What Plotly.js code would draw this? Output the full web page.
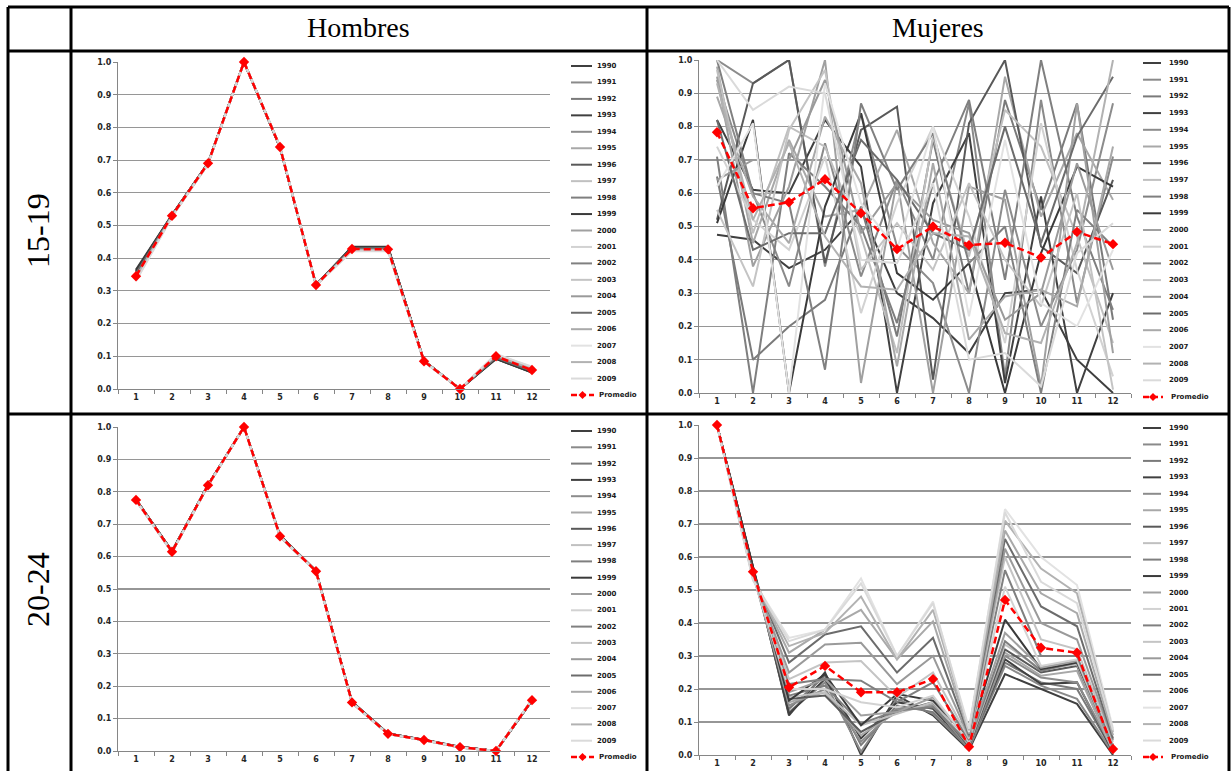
<!DOCTYPE html>
<html>
<head>
<meta charset="utf-8">
<script src="https://cdn.plot.ly/plotly-3.0.1.min.js"></script>
<style>
html, body { margin: 0; padding: 0; background: #ffffff; }
#chart { width: 1231px; height: 771px; }
</style>
</head>
<body>
<div id="chart"></div>
<script>
// Month index on the x axis
const meses = ['1', '2', '3', '4', '5', '6', '7', '8', '9', '10', '11', '12'];
const anios = ['1990', '1991', '1992', '1993', '1994', '1995', '1996', '1997', '1998', '1999',
               '2000', '2001', '2002', '2003', '2004', '2005', '2006', '2007', '2008', '2009'];
const coloresAnio = ['#3f3f3f', '#8a8a8a', '#7a7a7a', '#404040', '#8c8c8c', '#a8a8a8', '#595959',
                     '#c0c0c0', '#7f7f7f', '#3a3a3a', '#a0a0a0', '#d2d2d2', '#808080', '#c4c4c4',
                     '#9a9a9a', '#6c6c6c', '#a9a9a9', '#e2e2e2', '#b2b2b2', '#dadada'];

// Hombres 15-19: one row per year, then the average
const hombres1519 = [
  [0.360, 0.532, 0.690, 1.0, 0.738, 0.318, 0.432, 0.433, 0.086, 0.0, 0.094, 0.052],
  [0.350, 0.531, 0.689, 1.0, 0.740, 0.317, 0.430, 0.431, 0.085, 0.0, 0.097, 0.055],
  [0.355, 0.530, 0.690, 1.0, 0.741, 0.319, 0.433, 0.434, 0.084, 0.0, 0.092, 0.050],
  [0.365, 0.533, 0.691, 1.0, 0.739, 0.318, 0.435, 0.435, 0.086, 0.0, 0.093, 0.050],
  [0.352, 0.530, 0.690, 1.0, 0.740, 0.317, 0.429, 0.430, 0.085, 0.0, 0.098, 0.056],
  [0.345, 0.529, 0.688, 1.0, 0.740, 0.318, 0.427, 0.427, 0.085, 0.0, 0.100, 0.060],
  [0.358, 0.531, 0.690, 1.0, 0.739, 0.319, 0.431, 0.432, 0.086, 0.0, 0.095, 0.053],
  [0.340, 0.528, 0.689, 1.0, 0.741, 0.317, 0.425, 0.425, 0.084, 0.0, 0.103, 0.062],
  [0.350, 0.530, 0.690, 1.0, 0.740, 0.318, 0.430, 0.430, 0.085, 0.0, 0.097, 0.056],
  [0.362, 0.532, 0.691, 1.0, 0.739, 0.318, 0.434, 0.434, 0.086, 0.0, 0.092, 0.051],
  [0.343, 0.529, 0.689, 1.0, 0.740, 0.318, 0.426, 0.426, 0.085, 0.0, 0.101, 0.060],
  [0.335, 0.527, 0.688, 1.0, 0.742, 0.317, 0.423, 0.423, 0.084, 0.0, 0.105, 0.065],
  [0.348, 0.530, 0.690, 1.0, 0.740, 0.318, 0.428, 0.429, 0.085, 0.0, 0.098, 0.057],
  [0.338, 0.528, 0.689, 1.0, 0.741, 0.317, 0.424, 0.424, 0.084, 0.0, 0.104, 0.064],
  [0.346, 0.530, 0.690, 1.0, 0.740, 0.318, 0.428, 0.428, 0.085, 0.0, 0.100, 0.058],
  [0.353, 0.531, 0.690, 1.0, 0.740, 0.318, 0.430, 0.431, 0.085, 0.0, 0.096, 0.055],
  [0.342, 0.529, 0.689, 1.0, 0.741, 0.318, 0.426, 0.426, 0.085, 0.0, 0.102, 0.061],
  [0.332, 0.527, 0.688, 1.0, 0.742, 0.317, 0.422, 0.422, 0.084, 0.0, 0.106, 0.067],
  [0.340, 0.528, 0.689, 1.0, 0.741, 0.317, 0.425, 0.425, 0.084, 0.0, 0.103, 0.063],
  [0.330, 0.526, 0.688, 1.0, 0.742, 0.317, 0.421, 0.421, 0.084, 0.0, 0.107, 0.068]
];
const hombres1519Promedio = [0.345, 0.530, 0.690, 1.0, 0.740, 0.318, 0.428, 0.427, 0.085, 0.0, 0.100, 0.058];

// Mujeres 15-19
const mujeres1519 = [
  [0.475, 0.46, 0.375, 0.43, 0.55, 0.30, 0.225, 0.12, 0.30, 0.31, 0.10, 0.00],
  [0.94, 0.60, 0.32, 0.75, 0.35, 0.64, 0.40, 0.87, 0.05, 0.88, 0.27, 0.71],
  [0.65, 0.10, 0.20, 0.28, 0.56, 0.17, 0.76, 0.30, 0.88, 0.55, 0.87, 0.22],
  [0.82, 0.61, 0.60, 0.82, 0.68, 0.00, 0.57, 0.78, 0.03, 0.59, 0.00, 0.30],
  [1.00, 0.93, 1.00, 0.38, 0.84, 0.44, 0.33, 0.00, 0.61, 0.20, 0.43, 0.87],
  [0.98, 0.45, 0.76, 0.53, 0.55, 0.79, 0.45, 0.30, 0.95, 0.53, 0.78, 0.58],
  [0.52, 0.93, 1.00, 0.39, 0.79, 0.86, 0.04, 0.81, 1.00, 0.44, 0.36, 0.64],
  [0.97, 0.48, 0.80, 0.74, 0.47, 0.12, 0.77, 0.41, 0.85, 0.74, 0.47, 0.15],
  [0.71, 0.00, 0.72, 0.62, 0.50, 0.21, 0.63, 0.88, 0.34, 1.00, 0.53, 0.25],
  [0.51, 0.82, 0.00, 0.56, 0.84, 0.36, 0.28, 0.39, 0.00, 0.42, 0.68, 0.62],
  [0.95, 0.38, 0.62, 1.00, 0.03, 0.64, 0.00, 0.62, 0.58, 0.02, 0.87, 0.12],
  [0.74, 0.52, 0.43, 0.71, 0.24, 0.57, 0.80, 0.53, 0.15, 0.81, 0.37, 0.05],
  [1.00, 0.60, 0.57, 0.07, 0.87, 0.61, 0.78, 0.39, 0.50, 0.00, 0.55, 0.44],
  [0.55, 0.32, 0.79, 0.97, 0.37, 0.51, 0.37, 0.63, 0.40, 0.26, 0.60, 0.01],
  [0.64, 0.70, 0.70, 0.94, 0.48, 0.63, 0.52, 0.48, 0.22, 0.30, 0.69, 0.37],
  [0.82, 0.43, 0.48, 0.48, 0.76, 0.64, 0.48, 0.43, 0.80, 0.45, 0.77, 0.95],
  [0.89, 0.59, 0.45, 0.83, 0.63, 0.08, 0.69, 0.16, 0.29, 0.31, 0.26, 0.74],
  [0.62, 0.81, 0.00, 0.93, 0.57, 0.43, 0.80, 0.23, 0.76, 0.27, 0.20, 0.43],
  [0.93, 0.52, 0.75, 0.47, 0.32, 0.31, 0.48, 0.47, 0.18, 0.15, 0.45, 1.00],
  [1.00, 0.85, 0.92, 0.90, 0.40, 0.39, 0.63, 0.10, 0.12, 0.02, 0.42, 0.51]
];
const mujeres1519Promedio = [0.783, 0.555, 0.573, 0.642, 0.540, 0.432, 0.500, 0.444, 0.451, 0.407, 0.484, 0.447];

// Hombres 20-24
const hombres2024 = [
  [0.776, 0.616, 0.821, 1.0, 0.664, 0.556, 0.151, 0.054, 0.034, 0.012, 0.0, 0.156],
  [0.775, 0.615, 0.820, 1.0, 0.663, 0.555, 0.150, 0.053, 0.034, 0.012, 0.0, 0.157],
  [0.777, 0.617, 0.821, 1.0, 0.665, 0.556, 0.152, 0.054, 0.035, 0.013, 0.0, 0.155],
  [0.776, 0.616, 0.820, 1.0, 0.664, 0.555, 0.151, 0.053, 0.034, 0.012, 0.0, 0.156],
  [0.774, 0.614, 0.819, 1.0, 0.662, 0.554, 0.149, 0.052, 0.033, 0.011, 0.0, 0.158],
  [0.775, 0.615, 0.820, 1.0, 0.663, 0.555, 0.150, 0.053, 0.034, 0.012, 0.0, 0.157],
  [0.776, 0.616, 0.821, 1.0, 0.664, 0.556, 0.151, 0.054, 0.034, 0.012, 0.0, 0.156],
  [0.774, 0.614, 0.819, 1.0, 0.662, 0.554, 0.149, 0.052, 0.033, 0.011, 0.0, 0.158],
  [0.775, 0.615, 0.820, 1.0, 0.663, 0.555, 0.150, 0.053, 0.034, 0.012, 0.0, 0.157],
  [0.777, 0.617, 0.821, 1.0, 0.665, 0.556, 0.152, 0.054, 0.035, 0.013, 0.0, 0.155],
  [0.775, 0.615, 0.820, 1.0, 0.663, 0.555, 0.150, 0.053, 0.034, 0.012, 0.0, 0.157],
  [0.773, 0.613, 0.819, 1.0, 0.662, 0.554, 0.149, 0.052, 0.033, 0.011, 0.0, 0.159],
  [0.775, 0.615, 0.820, 1.0, 0.663, 0.555, 0.150, 0.053, 0.034, 0.012, 0.0, 0.157],
  [0.774, 0.614, 0.819, 1.0, 0.662, 0.554, 0.149, 0.052, 0.033, 0.011, 0.0, 0.158],
  [0.775, 0.615, 0.820, 1.0, 0.663, 0.555, 0.150, 0.053, 0.034, 0.012, 0.0, 0.157],
  [0.776, 0.616, 0.820, 1.0, 0.664, 0.555, 0.151, 0.053, 0.034, 0.012, 0.0, 0.156],
  [0.774, 0.614, 0.819, 1.0, 0.662, 0.554, 0.149, 0.052, 0.033, 0.011, 0.0, 0.158],
  [0.773, 0.613, 0.819, 1.0, 0.662, 0.554, 0.149, 0.052, 0.033, 0.011, 0.0, 0.159],
  [0.774, 0.614, 0.819, 1.0, 0.662, 0.554, 0.149, 0.052, 0.033, 0.011, 0.0, 0.158],
  [0.773, 0.613, 0.819, 1.0, 0.662, 0.554, 0.149, 0.052, 0.033, 0.011, 0.0, 0.159]
];
const hombres2024Promedio = [0.775, 0.615, 0.820, 1.0, 0.663, 0.555, 0.150, 0.053, 0.034, 0.012, 0.0, 0.157];

// Mujeres 20-24
const mujeres2024 = [
  [1.0, 0.570, 0.120, 0.250, 0.000, 0.180, 0.120, 0.015, 0.245, 0.200, 0.155, 0.000],
  [1.0, 0.560, 0.130, 0.220, 0.010, 0.170, 0.125, 0.020, 0.270, 0.210, 0.170, 0.005],
  [1.0, 0.560, 0.140, 0.240, 0.030, 0.150, 0.130, 0.020, 0.280, 0.220, 0.200, 0.010],
  [1.0, 0.570, 0.125, 0.230, 0.050, 0.160, 0.140, 0.025, 0.290, 0.215, 0.220, 0.010],
  [1.0, 0.550, 0.150, 0.200, 0.040, 0.140, 0.150, 0.020, 0.300, 0.235, 0.220, 0.015],
  [1.0, 0.550, 0.160, 0.190, 0.060, 0.130, 0.155, 0.030, 0.310, 0.240, 0.255, 0.010],
  [1.0, 0.560, 0.170, 0.180, 0.070, 0.130, 0.160, 0.025, 0.320, 0.250, 0.270, 0.020],
  [1.0, 0.550, 0.175, 0.190, 0.090, 0.125, 0.160, 0.030, 0.335, 0.260, 0.275, 0.015],
  [1.0, 0.555, 0.180, 0.210, 0.095, 0.135, 0.145, 0.035, 0.345, 0.255, 0.280, 0.020],
  [1.0, 0.570, 0.165, 0.245, 0.090, 0.185, 0.165, 0.050, 0.410, 0.260, 0.280, 0.030],
  [1.0, 0.545, 0.190, 0.230, 0.120, 0.130, 0.175, 0.040, 0.370, 0.265, 0.285, 0.020],
  [1.0, 0.540, 0.200, 0.200, 0.160, 0.145, 0.180, 0.040, 0.510, 0.270, 0.290, 0.030],
  [1.0, 0.550, 0.215, 0.230, 0.225, 0.160, 0.220, 0.045, 0.560, 0.300, 0.300, 0.025],
  [1.0, 0.540, 0.230, 0.280, 0.285, 0.175, 0.250, 0.050, 0.600, 0.350, 0.320, 0.040],
  [1.0, 0.545, 0.250, 0.335, 0.340, 0.215, 0.300, 0.055, 0.625, 0.400, 0.350, 0.045],
  [1.0, 0.550, 0.280, 0.365, 0.390, 0.250, 0.355, 0.060, 0.655, 0.450, 0.390, 0.050],
  [1.0, 0.535, 0.310, 0.380, 0.440, 0.290, 0.405, 0.065, 0.680, 0.490, 0.430, 0.060],
  [1.0, 0.530, 0.355, 0.380, 0.535, 0.300, 0.465, 0.070, 0.745, 0.600, 0.515, 0.080],
  [1.0, 0.535, 0.330, 0.370, 0.480, 0.290, 0.440, 0.075, 0.710, 0.565, 0.490, 0.070],
  [1.0, 0.530, 0.345, 0.380, 0.520, 0.300, 0.460, 0.080, 0.735, 0.525, 0.460, 0.075]
];
const mujeres2024Promedio = [1.0, 0.555, 0.205, 0.270, 0.190, 0.190, 0.230, 0.025, 0.470, 0.325, 0.310, 0.018];

const etiquetaPromedio = 'Promedio';
const encabezadosColumna = ['Hombres', 'Mujeres'];
const encabezadosFila = ['15-19', '20-24'];

// ---- page geometry (pixels) ----
const W = 1231, H = 771;
const px = x => x / W;
const py = y => 1 - y / H;

const paneles = [
  { serie: hombres1519, prom: hombres1519Promedio, ax: '',  box: { l: 118, r: 550, t: 62, b: 389 },
    leg: { x0: 571, x1: 592, xt: 595, y0: 66, step: 16.45 } },
  { serie: mujeres1519, prom: mujeres1519Promedio, ax: '2', box: { l: 699, r: 1131, t: 60, b: 393 },
    leg: { x0: 1143, x1: 1161, xt: 1167, y0: 63, step: 16.7 } },
  { serie: hombres2024, prom: hombres2024Promedio, ax: '3', box: { l: 118, r: 550, t: 427, b: 751 },
    leg: { x0: 571, x1: 592, xt: 595, y0: 431, step: 16.3 } },
  { serie: mujeres2024, prom: mujeres2024Promedio, ax: '4', box: { l: 699, r: 1131, t: 425, b: 755 },
    leg: { x0: 1143, x1: 1161, xt: 1167, y0: 428, step: 16.45 } }
];

const tickFont = { family: 'DejaVu Sans', size: 8, color: '#262626', weight: 'bold' };
const legFont = { family: 'DejaVu Sans', size: 7, color: '#1a1a1a', weight: 'bold' };

const traces = [];
const layout = {
  width: W, height: H,
  margin: { l: 0, r: 0, t: 0, b: 0 },
  paper_bgcolor: '#ffffff', plot_bgcolor: '#ffffff',
  showlegend: false,
  shapes: [], annotations: []
};

paneles.forEach(p => {
  const xa = 'x' + p.ax, ya = 'y' + p.ax;
  p.serie.forEach((vals, i) => {
    traces.push({
      type: 'scatter', mode: 'lines', x: meses, y: vals,
      xaxis: xa, yaxis: ya, name: anios[i], cliponaxis: false,
      line: { color: coloresAnio[i], width: 2 }, hoverinfo: 'skip'
    });
  });
  traces.push({
    type: 'scatter', mode: 'lines+markers', x: meses, y: p.prom,
    xaxis: xa, yaxis: ya, name: etiquetaPromedio, cliponaxis: false,
    line: { color: '#ff0000', width: 2.5, dash: '7px,4px' },
    marker: { symbol: 'diamond', size: 8, color: '#ff0000' }
  });

  layout['xaxis' + p.ax] = {
    domain: [px(p.box.l), px(p.box.r)], anchor: ya,
    type: 'category', range: [-0.5, 11.5], tickson: 'boundaries',
    ticks: 'outside', ticklen: 4, tickcolor: '#868686', tickwidth: 1,
    showline: true, linecolor: '#868686', linewidth: 1,
    showgrid: false, zeroline: false, tickfont: tickFont, fixedrange: true
  };
  layout['yaxis' + p.ax] = {
    domain: [py(p.box.b), py(p.box.t)], anchor: xa,
    range: [0, 1], dtick: 0.1, tick0: 0, tickformat: '.1f',
    ticks: 'outside', ticklen: 4, tickcolor: '#868686', tickwidth: 1,
    showline: true, linecolor: '#868686', linewidth: 1,
    showgrid: true, gridcolor: '#969696', gridwidth: 1.2,
    zeroline: false, tickfont: tickFont, fixedrange: true
  };

  // legend entries: grey line samples for the years, dashed red with a diamond for the average
  const L = p.leg;
  anios.forEach((a, i) => {
    const yy = L.y0 + i * L.step;
    layout.shapes.push({ type: 'line', xref: 'paper', yref: 'paper',
      x0: px(L.x0), x1: px(L.x1), y0: py(yy), y1: py(yy),
      line: { color: coloresAnio[i], width: 2 } });
    layout.annotations.push({ xref: 'paper', yref: 'paper', x: px(L.xt), y: py(yy),
      xanchor: 'left', yanchor: 'middle', showarrow: false, text: a, font: legFont });
  });
  const yp = L.y0 + anios.length * L.step;
  layout.shapes.push({ type: 'line', xref: 'paper', yref: 'paper',
    x0: px(L.x0), x1: px(L.x1 + 2), y0: py(yp), y1: py(yp),
    line: { color: '#ff0000', width: 2.5, dash: '6px,3px' } });
  const xc = (L.x0 + L.x1 + 2) / 2;
  layout.shapes.push({ type: 'path', xref: 'paper', yref: 'paper',
    path: `M ${px(xc)} ${py(yp - 4)} L ${px(xc + 4)} ${py(yp)} L ${px(xc)} ${py(yp + 4)} L ${px(xc - 4)} ${py(yp)} Z`,
    fillcolor: '#ff0000', line: { width: 0 } });
  layout.annotations.push({ xref: 'paper', yref: 'paper', x: px(L.xt + 2), y: py(yp),
    xanchor: 'left', yanchor: 'middle', showarrow: false, text: etiquetaPromedio, font: legFont });
});

// table frame
const borde = { color: '#000000', width: 3 };
const linea = (x0, y0, x1, y1) => layout.shapes.push({ type: 'line', xref: 'paper', yref: 'paper',
  x0: px(x0), y0: py(y0), x1: px(x1), y1: py(y1), line: borde, layer: 'above' });
linea(8, 7, 1229, 7);
linea(8, 51, 1229, 51);
linea(8, 414, 1229, 414);
linea(8, 7, 8, 771);
linea(71, 7, 71, 771);
linea(647, 7, 647, 771);
linea(1229, 7, 1229, 771);

// column and row headings
const serif = { family: 'Liberation Serif', size: 28, color: '#000000' };
const serifFila = { family: 'Liberation Serif', size: 32, color: '#000000' };
[[358, encabezadosColumna[0]], [938, encabezadosColumna[1]]].forEach(([x, t]) => {
  layout.annotations.push({ xref: 'paper', yref: 'paper', x: px(x), y: py(28),
    xanchor: 'center', yanchor: 'middle', showarrow: false, text: t, font: serif });
});
[[231, encabezadosFila[0]], [590, encabezadosFila[1]]].forEach(([y, t]) => {
  layout.annotations.push({ xref: 'paper', yref: 'paper', x: px(38), y: py(y),
    xanchor: 'center', yanchor: 'middle', showarrow: false, text: t, font: serifFila, textangle: -90 });
});

Plotly.newPlot('chart', traces, layout, { staticPlot: true, displayModeBar: false });
</script>
</body>
</html>
